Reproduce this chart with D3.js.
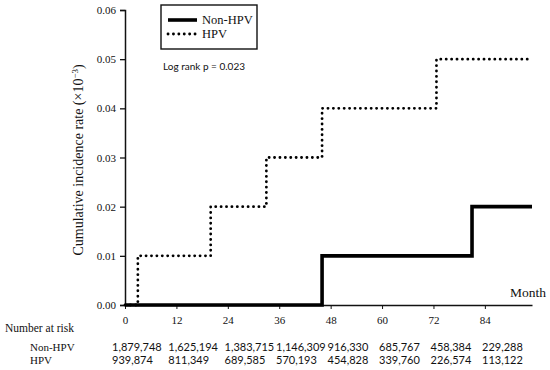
<!DOCTYPE html>
<html>
<head>
<meta charset="utf-8">
<script src="https://cdn.jsdelivr.net/npm/d3@7"></script>
<style>
  body { margin: 0; background: #fff; }
  .serif { font-family: "Liberation Serif", "DejaVu Serif", serif; fill: #111; }
  .sans { font-family: Lato, "Open Sans", sans-serif; fill: #111; }
</style>
</head>
<body>
<div id="chart"></div>
<script>
// step curve data (month, cumulative incidence)
var nonHpvMonths = [0, 46, 81, 95];
var nonHpvRates = [0, 0.01, 0.02, 0.02];
var hpvMonths = [0, 3, 20, 33, 46, 72.7, 94.5];
var hpvRates = [0, 0.01, 0.02, 0.03, 0.04, 0.05, 0.05];

// axis ticks
var monthTicks = [0, 12, 24, 36, 48, 60, 72, 84];
var rateTicks = [0, 0.01, 0.02, 0.03, 0.04, 0.05, 0.06];

// number at risk
var riskGroups = ['Non-HPV', 'HPV'];
var riskNonHpv = ['1,879,748', '1,625,194', '1,383,715', '1,146,309', '916,330', '685,767', '458,384', '229,288'];
var riskHpv = ['939,874', '811,349', '689,585', '570,193', '454,828', '339,760', '226,574', '113,122'];

var width = 550;
var height = 370;
var margin = { top: 10, right: 18, bottom: 65, left: 125 };

// 点線のスタイル
var dotDash = '0.1 5.3';

var svg = d3.select('#chart').append('svg')
  .attr('width', width)
  .attr('height', height);

// スケール
var x = d3.scaleLinear().domain([0, 95]).range([margin.left, width - margin.right]);
var y = d3.scaleLinear().domain([0, 0.06]).range([height - margin.bottom, margin.top]);

// y軸
var yAxis = svg.append('g')
  .attr('transform', 'translate(' + margin.left + ',0)')
  .call(d3.axisLeft(y).tickValues(rateTicks).tickFormat(d3.format('.2f')).tickSize(5).tickPadding(4));
yAxis.select('.domain').attr('stroke', '#111').attr('stroke-width', 1.5);
yAxis.selectAll('.tick line').attr('stroke', '#111').attr('stroke-width', 1.3);
yAxis.selectAll('.tick text').attr('class', 'serif').style('font-size', '11px');

// x軸
var xAxis = svg.append('g')
  .attr('transform', 'translate(0,' + y(0) + ')')
  .call(d3.axisBottom(x).tickValues(monthTicks).tickSize(4).tickSizeOuter(0).tickPadding(7));
xAxis.select('.domain').attr('stroke', '#111').attr('stroke-width', 1.5);
xAxis.selectAll('.tick line').attr('stroke', '#111').attr('stroke-width', 1);
xAxis.selectAll('.tick text').attr('class', 'serif').style('font-size', '11px');

// 曲線
var line = d3.line()
  .x(function(d) { return x(d[0]); })
  .y(function(d) { return y(d[1]); })
  .curve(d3.curveStepAfter);

svg.append('path')
  .datum(d3.zip(hpvMonths, hpvRates))
  .attr('d', line)
  .attr('fill', 'none')
  .attr('stroke', '#000')
  .attr('stroke-width', 2.8)
  .attr('stroke-linecap', 'round')
  .attr('stroke-dasharray', dotDash);

svg.append('path')
  .datum(d3.zip(nonHpvMonths, nonHpvRates))
  .attr('d', line)
  .attr('fill', 'none')
  .attr('stroke', '#000')
  .attr('stroke-width', 3.6);

// 軸ラベル
var yLabel = svg.append('text')
  .attr('class', 'serif')
  .attr('transform', 'translate(83,' + y(0.0295) + ') rotate(-90)')
  .attr('text-anchor', 'middle')
  .style('font-size', '14px');
yLabel.append('tspan').text('Cumulative incidence rate (×10');
yLabel.append('tspan').attr('dy', -5).style('font-size', '9px').text('−3');
yLabel.append('tspan').attr('dy', 5).text(')');

svg.append('text')
  .attr('class', 'serif')
  .attr('x', width - 4)
  .attr('y', y(0) - 8)
  .attr('text-anchor', 'end')
  .style('font-size', '13.5px')
  .text('Month');

// 凡例
var legend = svg.append('g');
legend.append('rect')
  .attr('x', 161).attr('y', 5)
  .attr('width', 96).attr('height', 44)
  .attr('fill', '#fff')
  .attr('stroke', '#111')
  .attr('stroke-width', 1.4);
[{ name: 'Non-HPV', w: 3.6, dash: null, cap: 'butt' }, { name: 'HPV', w: 2.8, dash: dotDash, cap: 'round' }].forEach(function(d, i) {
  var ly = 20 + i * 14;
  legend.append('line')
    .attr('x1', 168).attr('x2', 197)
    .attr('y1', ly).attr('y2', ly)
    .attr('stroke', '#000')
    .attr('stroke-width', d.w)
    .attr('stroke-linecap', d.cap)
    .attr('stroke-dasharray', d.dash);
  legend.append('text')
    .attr('class', 'serif')
    .attr('x', 202).attr('y', ly + 4)
    .style('font-size', '12.5px')
    .text(d.name);
});

svg.append('text')
  .attr('class', 'sans')
  .attr('x', 163).attr('y', 70)
  .style('font-size', '10px')
  .text('Log rank p = 0.023');

// Number at risk
svg.append('text')
  .attr('class', 'serif')
  .attr('x', 5).attr('y', 332)
  .style('font-size', '11.5px')
  .text('Number at risk');

var riskX = d3.scaleLinear().domain([0, 24, 84]).range([112, 224.5, 482]);
var rows = [riskNonHpv, riskHpv];
rows.forEach(function(vals, r) {
  var ry = 351 + r * 13;
  svg.append('text')
    .attr('class', 'serif')
    .attr('x', 30).attr('y', ry)
    .style('font-size', '11px')
    .text(riskGroups[r]);
  svg.selectAll('.risk' + r)
    .data(vals)
    .enter()
    .append('text')
    .attr('class', 'sans risk' + r)
    .attr('x', function(d, i) { return riskX(monthTicks[i]); })
    .attr('y', ry)
    .style('font-size', '11px')
    .text(function(d) { return d; });
});
</script>
</body>
</html>
